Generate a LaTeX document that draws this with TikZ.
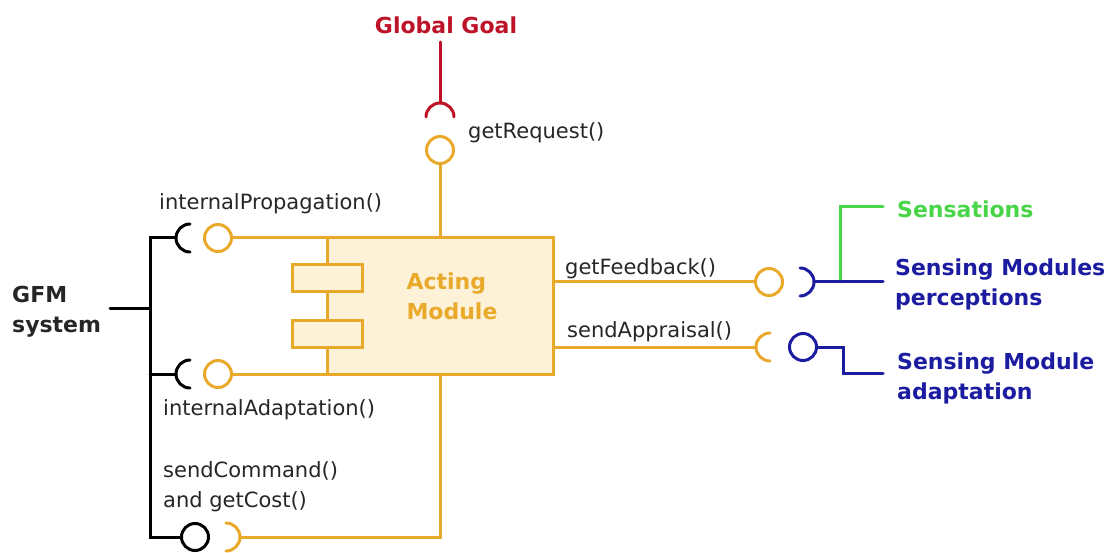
\documentclass[tikz,border=0pt]{standalone}
\usepackage{fontspec}
\setmainfont{DejaVu Sans}
\definecolor{acto}{RGB}{233,169,43}
\definecolor{actfill}{RGB}{253,242,215}
\definecolor{goalred}{RGB}{190,18,40}
\definecolor{sensblue}{RGB}{28,28,160}
\definecolor{sensgreen}{RGB}{72,214,72}
\tikzset{
  wire/.style={line width=3pt, line cap=round, line join=miter},
  ball/.style={circle, draw, line width=3pt, fill=white, inner sep=0pt, minimum size=27pt},
  lbl/.style={inner sep=0pt, anchor=west, font=\fontsize{21}{30}\selectfont, align=left, text=black!85},
  bold/.style={inner sep=0pt, anchor=west, font=\fontsize{22}{30}\selectfont\bfseries, align=left},
}
\begin{document}
\begin{tikzpicture}[x=1pt,y=-1pt]
\useasboundingbox (0,0) rectangle (1116,553);

% --- Acting Module component ---
\node[draw=acto, fill=actfill, line width=3pt, minimum width=226pt, minimum height=136pt, inner sep=0pt]
  (acting) at (440,306) {};
\node[draw=acto, fill=actfill, line width=3pt, minimum width=70pt, minimum height=27pt, inner sep=0pt]
  (tabA) at (327,278.5) {};
\node[draw=acto, fill=actfill, line width=3pt, minimum width=70pt, minimum height=27pt, inner sep=0pt]
  (tabB) at (327,333.5) {};
\node[bold, anchor=center, text=acto] (actname) at (452,296) {Acting\\Module};

% --- socket centres ---
\coordinate (sR) at (440,117);
\coordinate (sA) at (190,238);
\coordinate (sB) at (190,374);
\coordinate (sF) at (800,282);
\coordinate (sP) at (770,347);
\coordinate (sC) at (226,537);

% --- provided interfaces (balls) ---
\node[ball, draw=acto]     (bR) at (440,150) {};
\node[ball, draw=acto]     (bA) at (218,238) {};
\node[ball, draw=acto]     (bB) at (218,374) {};
\node[ball, draw=acto]     (bF) at (769,282) {};
\node[ball, draw=sensblue] (bP) at (803,347) {};
\node[ball, draw=black]    (bC) at (195,537) {};

% --- orange connectors from the component ---
\draw[wire, acto] (bR) -- (bR |- acting.north);
\draw[wire, acto] (bA) -- (bA -| acting.west);
\draw[wire, acto] (bB) -- (bB -| acting.west);
\draw[wire, acto] (acting.east |- bF) -- (bF);
\draw[wire, acto] (acting.east |- sP) -- ([xshift=-14pt]sP);
\draw[wire, acto] (acting.south) -- (acting.south |- sC) -- ([xshift=14pt]sC);

% orange sockets
\draw[wire, acto] ([yshift=14pt]sP) arc[start angle=90, end angle=270, radius=14pt];
\draw[wire, acto] ([yshift=-14pt]sC) arc[start angle=-90, end angle=90, radius=14pt];

% --- Global Goal (red) ---
\node[bold, anchor=center, text=goalred] (goal) at (446,25) {Global Goal};
\coordinate (goalfoot) at (440,42);
\draw[wire, goalred] (goalfoot) -- ([yshift=14pt]sR);
\draw[wire, goalred] ([xshift=14pt]sR) arc[start angle=0, end angle=180, radius=14pt];

% --- GFM system (black) ---
\node[bold, text=black!85] (gfm) at (12,312) {GFM\\system};
\coordinate (gfmend) at (110,308);
\coordinate (busTop) at (150,238);
\coordinate (busMid) at (150,308);
\coordinate (busB) at (150,374);
\coordinate (busBot) at (150,537);
\draw[wire, black] ([xshift=-14pt]sA) -- (busTop) -- (busBot) -- (bC);
\draw[wire, black] (busB) -- ([xshift=-14pt]sB);
\draw[wire, black] (gfmend) -- (busMid);
\draw[wire, black] ([yshift=14pt]sA) arc[start angle=90, end angle=270, radius=14pt];
\draw[wire, black] ([yshift=14pt]sB) arc[start angle=90, end angle=270, radius=14pt];

% --- Sensing side (green / blue) ---
\node[bold, text=sensgreen] (sens) at (897,209) {Sensations};
\node[bold, text=sensblue] (percep) at (895,284) {Sensing Modules\\perceptions};
\node[bold, text=sensblue] (adapt) at (897,378) {Sensing Module\\adaptation};
\coordinate (perEnd) at (883,282);
\coordinate (gJoin) at (840,282);
\coordinate (sensEnd) at (883,207);
\coordinate (adBend) at (843,347);
\coordinate (adEnd) at (883,373);
\draw[wire, sensgreen] (gJoin) -- (gJoin |- sensEnd) -- (sensEnd);
\draw[wire, sensblue] ([xshift=14pt]sF) -- (perEnd);
\draw[wire, sensblue] ([yshift=-14pt]sF) arc[start angle=-90, end angle=90, radius=14pt];
\draw[wire, sensblue] (bP) -- (adBend) -- (adBend |- adEnd) -- (adEnd);

% --- interface labels ---
\node[lbl] (lReq)  at (468,133) {getRequest()};
\node[lbl] (lProp) at (159,204) {internalPropagation()};
\node[lbl] (lAdap) at (163,410) {internalAdaptation()};
\node[lbl] (lCmd)  at (163,487) {sendCommand()\\and getCost()};
\node[lbl] (lFb)   at (565,269) {getFeedback()};
\node[lbl] (lApp)  at (567,332) {sendAppraisal()};
\end{tikzpicture}
\end{document}
